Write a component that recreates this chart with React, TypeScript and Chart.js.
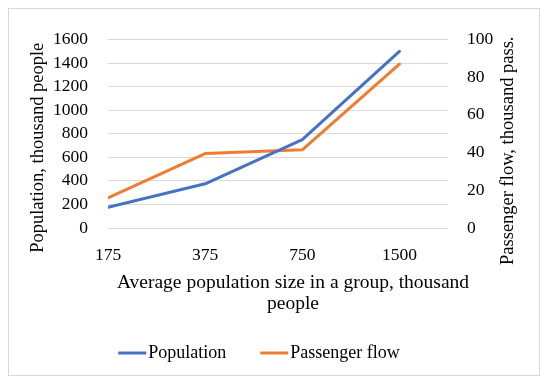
import React, { useEffect, useRef } from "react";
import { Chart, registerables } from "chart.js";

Chart.register(...registerables);

// ---- data ----
const categories = ["175", "375", "750", "1500"];
const population = [175, 375, 750, 1500];
const passengerFlow = [16, 39.5, 41.5, 87];
const seriesNames = ["Population", "Passenger flow"];
const seriesColors = ["#4472C4", "#ED7D31"];
const xTitleLines = ["Average population size in a group, thousand", "people"];
const yTitleLeft = "Population, thousand people";
const yTitleRight = "Passenger flow, thousand pass.";

const FONT = '"Liberation Serif", serif';
const TEXT = "#000000";
const GRID = "#d9d9d9";

const titlesAndLegend = {
  id: "titlesAndLegend",
  afterDraw(chart: any) {
    const { ctx, chartArea } = chart;
    const cx = (chartArea.left + chartArea.right) / 2;
    const cy = (chartArea.top + chartArea.bottom) / 2;
    ctx.save();
    ctx.fillStyle = TEXT;
    ctx.textAlign = "center";
    ctx.textBaseline = "middle";
    // x title
    ctx.font = `19.5px ${FONT}`;
    xTitleLines.forEach((t, i) => {
      ctx.fillText(t, cx + 15, chartArea.bottom + 55 + i * 21);
    });
    ctx.font = `18.5px ${FONT}`;
    // left title
    ctx.save();
    ctx.translate(chart.scales.y.left + 29, cy + 14);
    ctx.rotate(-Math.PI / 2);
    ctx.fillText(yTitleLeft, 0, 0);
    ctx.restore();
    // right title
    ctx.save();
    ctx.translate(chart.scales.y1.right - 31, cy + 17);
    ctx.rotate(-Math.PI / 2);
    ctx.fillText(yTitleRight, 0, 0);
    ctx.restore();
    // legend
    ctx.font = `18px ${FONT}`;
    const lineLen = 28;
    const gap = 2;
    const itemGap = 34;
    const widths = seriesNames.map((n) => ctx.measureText(n).width);
    const total = widths.reduce((a, w) => a + lineLen + gap + w, 0) + itemGap * (seriesNames.length - 1);
    let x = chart.width / 2 - 15 - total / 2;
    const ly = chart.height - 22;
    ctx.textAlign = "left";
    seriesNames.forEach((n, i) => {
      ctx.strokeStyle = seriesColors[i];
      ctx.lineWidth = 3;
      ctx.beginPath();
      ctx.moveTo(x, ly);
      ctx.lineTo(x + lineLen, ly);
      ctx.stroke();
      x += lineLen + gap;
      ctx.fillText(n, x, ly);
      x += widths[i] + itemGap;
    });
    ctx.restore();
  },
};

export default function App() {
  const ref = useRef<HTMLCanvasElement | null>(null);
  useEffect(() => {
    if (!ref.current) return;
    const chart = new Chart(ref.current, {
      type: "line",
      data: {
        datasets: [
          {
            label: seriesNames[0],
            data: population.map((v, i) => ({ x: i, y: v })),
            borderColor: seriesColors[0],
            backgroundColor: seriesColors[0],
            borderWidth: 3,
            pointRadius: 0,
            tension: 0,
            borderCapStyle: "round",
            borderJoinStyle: "round",
            yAxisID: "y",
          },
          {
            label: seriesNames[1],
            data: passengerFlow.map((v, i) => ({ x: i, y: v })),
            borderColor: seriesColors[1],
            backgroundColor: seriesColors[1],
            borderWidth: 3,
            pointRadius: 0,
            tension: 0,
            borderCapStyle: "round",
            borderJoinStyle: "round",
            yAxisID: "y1",
          },
        ],
      },
      options: {
        animation: false,
        responsive: false,
        layout: { padding: { top: 18, bottom: 47, left: 0, right: 0 } },
        plugins: { legend: { display: false }, tooltip: { enabled: false } },
        scales: {
          x: {
            type: "linear",
            min: 0,
            max: 3.5,
            grid: { display: false, drawTicks: false },
            border: { display: false },
            afterBuildTicks: (s: any) => {
              s.ticks = categories.map((_, i) => ({ value: i }));
            },
            afterFit: (s: any) => {
              s.height = 100;
            },
            ticks: {
              autoSkip: false,
              maxRotation: 0,
              padding: 17,
              color: TEXT,
              font: { family: FONT, size: 17.5 },
              callback: (v: any) => categories[v] ?? "",
            },
          },
          y: {
            position: "left",
            min: 0,
            max: 1600,
            grid: { color: GRID, lineWidth: 1, drawTicks: false },
            border: { display: false },
            afterFit: (s: any) => {
              s.width = 99;
            },
            ticks: {
              stepSize: 200,
              autoSkip: false,
              padding: 20,
              color: TEXT,
              font: { family: FONT, size: 17.5 },
              callback: (v: any) => String(v),
            },
          },
          y1: {
            position: "right",
            min: 0,
            max: 100,
            grid: { drawOnChartArea: false, drawTicks: false },
            border: { display: false },
            afterFit: (s: any) => {
              s.width = 91;
            },
            ticks: {
              stepSize: 20,
              autoSkip: false,
              padding: 19,
              color: TEXT,
              font: { family: FONT, size: 17.5 },
              callback: (v: any) => String(v),
            },
          },
        },
      },
      plugins: [titlesAndLegend],
    } as any);
    return () => chart.destroy();
  }, []);
  return (
    <div style={{ width: 530, height: 366, border: "1px solid #d9d9d9", background: "#fff" }}>
      <canvas ref={ref} width={530} height={366} style={{ display: "block" }} />
    </div>
  );
}
